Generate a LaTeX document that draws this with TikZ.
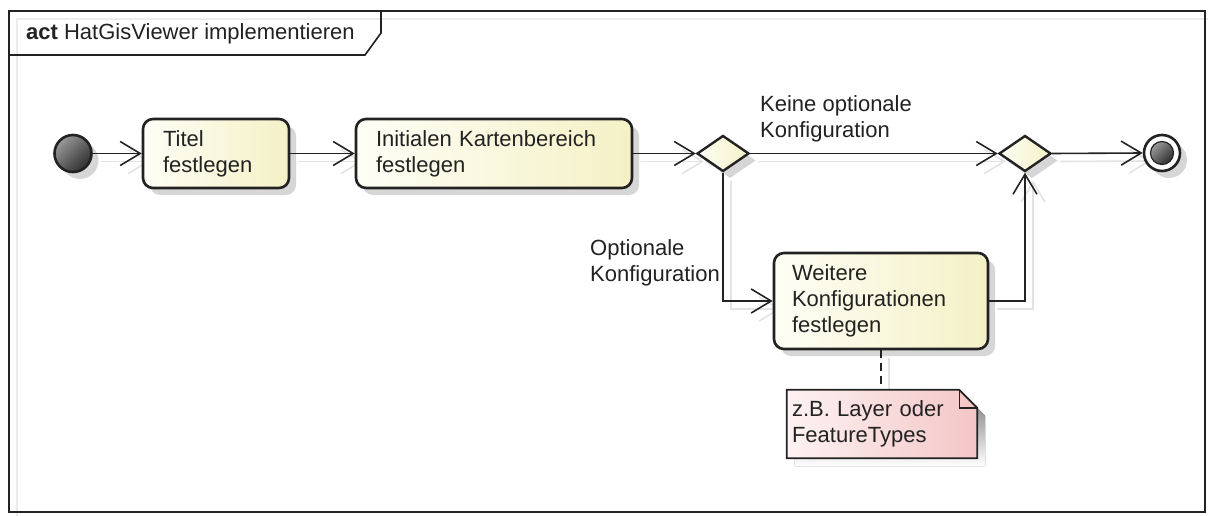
\documentclass[tikz,border=0pt]{standalone}
\usepackage{fontspec}
\setmainfont{Liberation Sans}
\usetikzlibrary{arrows.meta,shapes.geometric,shadows}

\pgfdeclarelayer{back}
\pgfdeclarelayer{mid}
\pgfsetlayers{back,mid,main}

\definecolor{ink}{HTML}{222222}
\definecolor{boxl}{HTML}{FEFEF6}
\definecolor{boxr}{HTML}{F4F1C6}
\definecolor{notel}{HTML}{FDF2F2}
\definecolor{noter}{HTML}{F4C6C6}
\definecolor{shade}{HTML}{D6D6D6}
\definecolor{lineshadow}{HTML}{E3E3E3}
\definecolor{frameshadow}{HTML}{ECECEC}
\definecolor{balllight}{HTML}{9A9A9A}
\definecolor{balldark}{HTML}{2E2E2E}

\begin{document}
\begin{tikzpicture}[x=1pt,y=-1pt,
  txt/.style={font=\fontsize{22}{26}\selectfont, text=ink},
  softshadow/.style={drop shadow={shadow xshift=7pt, shadow yshift=-7pt, fill=shade, opacity=1}},
  action/.style={txt, softshadow, draw=ink, line width=2.6pt, rounded corners=10pt,
    left color=boxl, right color=boxr, align=left, inner xsep=20pt, inner ysep=0pt,
    minimum height=69pt},
  decision/.style={softshadow, diamond, draw=ink, line width=2.4pt,
    left color=boxl, right color=boxr, minimum width=52pt, minimum height=36pt, inner sep=0pt},
  greyball/.style={circle, shading=axis, top color=balllight, bottom color=balldark,
    shading angle=45, inner sep=0pt},
  flow/.style={draw=ink, line width=1.6pt, -{Straight Barb[length=20pt,width=24pt]}},
  flowshadow/.style={draw=lineshadow, line width=1.6pt, -{Straight Barb[length=20pt,width=24pt]}},
  guard/.style={txt, align=left, anchor=north west, inner sep=0pt},
  notebox/.style={txt, align=left, inner xsep=5pt, inner ysep=0pt,
    minimum width=190pt, minimum height=68pt},
  anchorline/.style={draw=ink, line width=2pt, dash pattern=on 8pt off 5pt},
]
\useasboundingbox (0,0) rectangle (1208,516);

% frame with its name tab
\draw[ink, line width=2pt] (9,11) rectangle (1205,512);
\draw[ink, line width=1.6pt] (9,55) -- (365,55) -- (381,33) -- (381,11);
\node[txt, anchor=base west, inner sep=0pt] (title) at (26,40)
  {\textbf{act}\ HatGisViewer implementieren};

% initial and final nodes
\node[greyball, draw=ink, line width=2.6pt, minimum size=37pt, softshadow] (start) at (73,153.5) {};
\node[circle, draw=ink, line width=2.6pt, fill=white, minimum size=36pt,
  inner sep=0pt, softshadow] (final) at (1162,153) {};
\node[greyball, draw=ink, line width=1.2pt, minimum size=23pt] (finalcore) at (final.center) {};

% actions
\node[action, text width=106pt] (titel) at (216,153.5) {Titel\\festlegen};
\node[action, text width=236pt] (init) at (494,153.5) {Initialen Kartenbereich\\festlegen};
\node[action, text width=178pt, inner xsep=18pt, minimum height=96pt] (weitere) at (881,301)
  {Weitere\\Konfigurationen\\festlegen};

% decision and merge
\node[decision] (d1) at (723,153.5) {};
\node[decision] (d2) at (1025,153.5) {};

% note
\node[notebox, text width=180pt] (note) at (882,424) {z.B. Layer oder\\FeatureTypes};
\begin{pgfonlayer}{mid}
  \path[left color=notel, right color=noter, draw=ink, line width=1.8pt, line join=miter]
    (note.north west) -- ([xshift=-18pt]note.north east) -- ([yshift=-18pt]note.north east)
    -- (note.south east) -- (note.south west) -- cycle;
  \draw[ink, line width=1.4pt]
    ([xshift=-18pt]note.north east) -- ([xshift=-18pt,yshift=-18pt]note.north east)
    -- ([yshift=-18pt]note.north east);
\end{pgfonlayer}

% control flows
\draw[flow] (start.east) -- (titel.west);
\draw[flow] (titel.east) -- (init.west);
\draw[flow] (init.east) -- (d1.west);
\draw[flow] (d1.east) -- (d2.west);
\draw[flow] (d2.east) -- (final.west);
\draw[flow] (d1.south) |- (weitere.west);
\draw[flow] (weitere.east) -| (d2.south);
\draw[anchorline] (weitere.south) -- (weitere.south |- note.north);

% guards
\node[guard] (nooption) at (760,95) {Keine optionale\\Konfiguration};
\node[guard] (option) at (590,239) {Optionale\\Konfiguration};

% shadows behind everything
\begin{pgfonlayer}{back}
  \fill[white] (0,0) rectangle (1208,516);
  \draw[frameshadow, line width=2pt] (17,19) rectangle (1213,520);
  \begin{scope}[transform canvas={shift={(8pt,-8pt)}}]
    \draw[flowshadow] (start.east) -- (titel.west);
    \draw[flowshadow] (titel.east) -- (init.west);
    \draw[flowshadow] (init.east) -- (d1.west);
    \draw[flowshadow] (d1.east) -- (d2.west);
    \draw[flowshadow] (d2.east) -- (final.west);
    \draw[flowshadow] (d1.south) |- (weitere.west);
    \draw[flowshadow] (weitere.east) -| (d2.south);
    \draw[lineshadow, line width=2pt] (weitere.south) -- (weitere.south |- note.north);
    \fill[shade] (note.north west) -- ([xshift=-18pt]note.north east)
      -- ([yshift=-18pt]note.north east) -- (note.south east) -- (note.south west) -- cycle;
  \end{scope}
\end{pgfonlayer}
\end{tikzpicture}
\end{document}
